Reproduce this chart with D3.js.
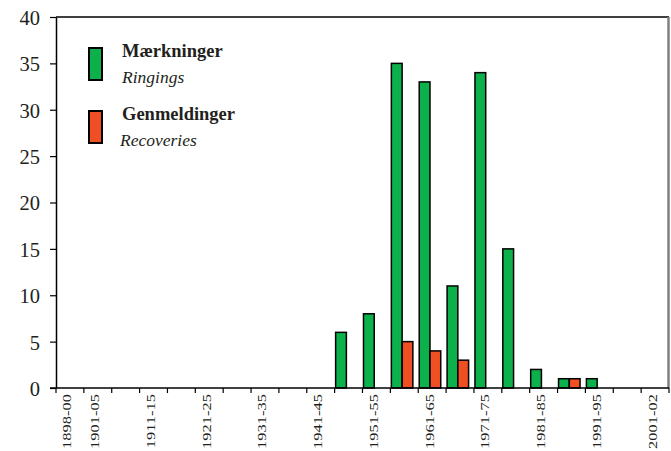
<!DOCTYPE html>
<html>
<head>
<meta charset="utf-8">
<script src="https://cdn.jsdelivr.net/npm/d3@7"></script>
<style>
  body { margin: 0; background: #fff; }
  text { font-family: "Liberation Serif", "DejaVu Serif", serif; fill: #231f20; }
</style>
</head>
<body>
<div class="chart"></div>
<script>
// periods (5-year groups)
const periods = ['1898-00', '1901-05', '1906-10', '1911-15', '1916-20', '1921-25', '1926-30',
  '1931-35', '1936-40', '1941-45', '1946-50', '1951-55', '1956-60', '1961-65', '1966-70',
  '1971-75', '1976-80', '1981-85', '1986-90', '1991-95', '1996-00', '2001-02'];
const ringings   = [0, 0, 0, 0, 0, 0, 0, 0, 0, 0, 6, 8, 35, 33, 11, 34, 15, 2, 1, 1, 0, 0];
const recoveries = [0, 0, 0, 0, 0, 0, 0, 0, 0, 0, 0, 0, 5, 4, 3, 0, 0, 0, 1, 0, 0, 0];
const shownLabels = ['1898-00', '1901-05', '1911-15', '1921-25', '1931-35', '1941-45',
  '1951-55', '1961-65', '1971-75', '1981-85', '1991-95', '2001-02'];
const yTicks = [0, 5, 10, 15, 20, 25, 30, 35, 40];
const legendItems = [
  { key: 'ring', da: 'Mærkninger', en: 'Ringings' },
  { key: 'rec', da: 'Genmeldinger', en: 'Recoveries' }
];

const colors = { ring: '#0db14b', rec: '#f04e23' };

const svg_width = 671;
const svg_height = 451;
const margin = { top: 17, right: 2, bottom: 63, left: 56 };

const svg = d3.select('.chart')
  .append('svg')
  .attr('width', svg_width)
  .attr('height', svg_height);

const xScale = d3.scaleBand()
  .domain(periods)
  .range([margin.left, svg_width - margin.right])
  .padding(0);
const x1 = d3.scaleBand()
  .domain(['ring', 'rec'])
  .range([1, 22.5]);
const yScale = d3.scaleLinear([0, 40], [svg_height - margin.bottom, margin.top]);

// frame: top black, right grey
svg.append('line')
  .attr('x1', margin.left).attr('x2', svg_width - margin.right)
  .attr('y1', yScale(40)).attr('y2', yScale(40))
  .attr('stroke', '#000').attr('stroke-width', 1.5);
svg.append('line')
  .attr('x1', svg_width - margin.right - 0.5).attr('x2', svg_width - margin.right - 0.5)
  .attr('y1', yScale(40)).attr('y2', yScale(0))
  .attr('stroke', '#808080').attr('stroke-width', 2.5);

// bars
const series = [
  { key: 'ring', values: ringings },
  { key: 'rec', values: recoveries }
];
series.forEach(s => {
  svg.append('g')
    .selectAll('rect')
    .data(periods.map((p, i) => ({ p, v: s.values[i] })).filter(d => d.v > 0))
    .join('rect')
    .attr('x', d => xScale(d.p) + x1(s.key))
    .attr('y', d => yScale(d.v))
    .attr('width', x1.bandwidth())
    .attr('height', d => yScale(0) - yScale(d.v))
    .attr('fill', colors[s.key])
    .attr('stroke', '#000')
    .attr('stroke-width', 1.5);
});

// y axis
const yAxis = d3.axisLeft(yScale)
  .tickValues(yTicks)
  .tickSizeInner(6)
  .tickSizeOuter(0)
  .tickPadding(10);
const yAxisDraw = svg.append('g')
  .attr('transform', `translate(${margin.left},0)`)
  .call(yAxis);
yAxisDraw.select('.domain').attr('stroke', '#000').attr('stroke-width', 1.5);
yAxisDraw.selectAll('line').attr('stroke', '#000').attr('stroke-width', 1.2);
yAxisDraw.selectAll('text')
  .style('font-size', '20.5px')
  .attr('fill', '#231f20')
  .attr('x', -16)
  .attr('dy', '0.36em');

// x axis: ticks at band edges
const edges = periods.map(p => xScale(p)).concat([svg_width - margin.right]);
const xAxisG = svg.append('g');
xAxisG.append('line')
  .attr('x1', margin.left - 6).attr('x2', svg_width - margin.right)
  .attr('y1', yScale(0)).attr('y2', yScale(0))
  .attr('stroke', '#000').attr('stroke-width', 1.5);
xAxisG.selectAll('.xtick')
  .data(edges)
  .join('line')
  .attr('class', 'xtick')
  .attr('x1', d => d).attr('x2', d => d)
  .attr('y1', yScale(0)).attr('y2', yScale(0) + 5)
  .attr('stroke', '#000').attr('stroke-width', 1.2);
xAxisG.selectAll('.xlabel')
  .data(shownLabels)
  .join('text')
  .attr('class', 'xlabel')
  .attr('transform', d => `translate(${xScale(d) + xScale.bandwidth() / 2 + 1.5},${yScale(0) + 6}) rotate(-90) scale(1,0.72)`)
  .attr('text-anchor', 'end')
  .style('font-size', '16.5px')
  .text(d => d);

// legend
const legend = svg.append('g')
  .attr('transform', 'translate(89,48)');
const li = legend.selectAll('g')
  .data(legendItems)
  .join('g')
  .attr('transform', (d, i) => `translate(0,${i * 63})`);
li.append('rect')
  .attr('x', 0).attr('y', 0)
  .attr('width', 13).attr('height', 32)
  .attr('fill', d => colors[d.key])
  .attr('stroke', '#000')
  .attr('stroke-width', 2);
li.append('text')
  .attr('x', 33).attr('y', 9)
  .style('font-size', '18.5px')
  .style('font-weight', 'bold')
  .text(d => d.da);
li.append('text')
  .attr('x', d => d.key === 'rec' ? 31 : 33).attr('y', 35)
  .style('font-size', '17.5px')
  .style('font-style', 'italic')
  .text(d => d.en);
</script>
</body>
</html>
